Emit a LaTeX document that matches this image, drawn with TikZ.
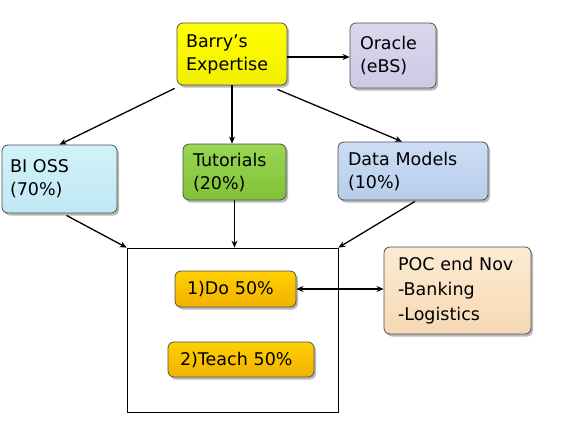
\documentclass[tikz,border=0pt]{standalone}
\usepackage{fontspec}
\setmainfont{DejaVu Sans}
\usetikzlibrary{shadows,arrows.meta,calc}
\definecolor{cyel}{HTML}{FFFF00}
\definecolor{cyelb}{HTML}{F2EE00}
\definecolor{corc}{HTML}{DCD6EE}
\definecolor{corcb}{HTML}{CFC8E6}
\definecolor{cbi}{HTML}{D2F2FA}
\definecolor{cbib}{HTML}{BFE8F4}
\definecolor{ctut}{HTML}{98D654}
\definecolor{ctutb}{HTML}{80C238}
\definecolor{cdm}{HTML}{CCDDF4}
\definecolor{cdmb}{HTML}{B8CDEC}
\definecolor{cgold}{HTML}{FFD000}
\definecolor{cgoldb}{HTML}{F2B200}
\definecolor{cpoc}{HTML}{FCEBD2}
\definecolor{cpocb}{HTML}{F6D9B4}
\definecolor{cbord}{HTML}{505050}
\tikzset{
  box/.style={rectangle, rounded corners=6pt, draw=cbord, line width=0.8pt,
    drop shadow={shadow xshift=2pt, shadow yshift=-2.5pt, opacity=0.55},
    font=\fontsize{17.5}{23}\selectfont, align=left, inner xsep=10pt, inner ysep=0pt},
  conn/.style={line width=1.3pt, -{Stealth[length=7pt,width=6pt]}},
  dconn/.style={line width=2pt, {Stealth[length=7pt,width=6pt]}-{Stealth[length=7pt,width=6pt]}}
}
\begin{document}
\begin{tikzpicture}[x=1pt,y=-1pt]
\useasboundingbox[fill=white] (0,0) rectangle (567,424);
\node[box, top color=cyel, bottom color=cyelb, minimum height=62pt, text width=92pt, inner xsep=9pt] (barry) at (232,54) {Barry’s\\Expertise};
\node[box, top color=corc, bottom color=corcb, minimum height=65pt, text width=66pt] (oracle) at (393,55.5) {Oracle\\(eBS)};
\node[box, top color=cbi, bottom color=cbib, minimum height=68pt, text width=99pt, inner xsep=8pt] (bi) at (59.5,179) {BI OSS\\(70\%)};
\node[box, top color=ctut, bottom color=ctutb, minimum height=56pt, text width=83pt] (tut) at (234.5,172) {Tutorials\\(20\%)};
\node[box, top color=cdm, bottom color=cdmb, minimum height=58pt, text width=130pt] (dm) at (413,171) {Data Models\\(10\%)};
\node[draw=black, line width=0.7pt, minimum width=211pt, minimum height=164pt, inner sep=0pt] (rect) at (232.5,330) {};
\node[box, top color=cgold, bottom color=cgoldb, minimum height=36pt, text width=97pt, inner xsep=12pt] (do) at (235.5,289) {1)Do 50\%};
\node[box, top color=cgold, bottom color=cgoldb, minimum height=35pt, text width=122pt, inner xsep=12pt] (teach) at (241,359.5) {2)Teach 50\%};
\node[box, top color=cpoc, bottom color=cpocb, minimum height=87pt, text width=119pt, inner xsep=14pt, font=\fontsize{17.5}{25}\selectfont] (poc) at (457.5,290.5) {POC end Nov\\-Banking\\-Logistics};

\draw[conn] ([yshift=-3pt]barry.east) -- ([yshift=-3pt]barry.east -| oracle.west);
\draw[conn] ([xshift=-2pt,yshift=-3pt]barry.south west) -- (bi.north);
\draw[conn] (barry.south) -- (barry.south |- tut.north);
\draw[conn] ([xshift=-10pt,yshift=-4pt]barry.south east) -- ([xshift=-11pt]dm.north);
\draw[conn] ([xshift=7pt,yshift=-2pt]bi.south) -- (rect.north west);
\draw[conn] (tut.south) -- (tut.south |- rect.north);
\draw[conn] ([xshift=2pt,yshift=-1pt]dm.south) -- (rect.north east);
\draw[dconn] (do.east) -- (do.east -| poc.west);
\end{tikzpicture}
\end{document}
